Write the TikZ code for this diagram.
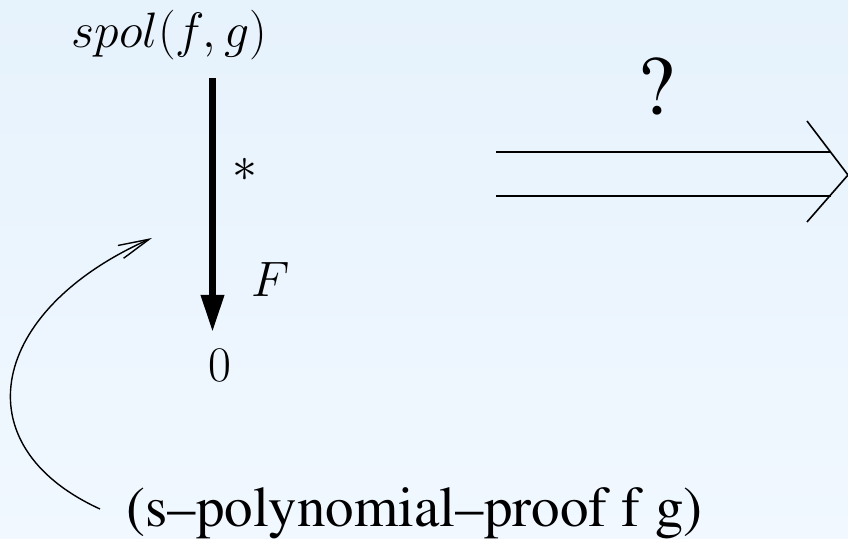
\documentclass[tikz,border=0pt]{standalone}
\usepackage{amsmath, amssymb}
\usepackage[T1,TU]{fontenc}
\usepackage{xcolor}
\newcommand\timesfont{\fontencoding{T1}\fontfamily{ptm}\selectfont}
\usetikzlibrary{arrows.meta}
\definecolor{bgtop}{RGB}{230,242,252}
\definecolor{bgbot}{RGB}{241,248,255}

\begin{document}
\begin{tikzpicture}[x=0.5pt, y=-0.5pt,
  mathlbl/.style={inner sep=0pt, font=\fontsize{25}{30}\selectfont},
  prooflbl/.style={inner sep=0pt, font=\fontsize{28.5}{34}\selectfont\timesfont},
  reduct/.style={line width=3.3pt, -{Triangle[length=18.5pt, width=11pt]}},
  thinarrow/.style={line width=0.7pt, -{Straight Barb[length=15.5pt, width=7pt]}}]
  \shade[top color=bgtop, bottom color=bgbot] (0,0) rectangle (848,539);
  \useasboundingbox (0,0) rectangle (848,539);
  % reduction of the s-polynomial
  \node[mathlbl, anchor=base] (spol) at (169.5,48) {$spol(f,g)$};
  \node[mathlbl, anchor=base] (zero) at (220,382) {$0$};
  \coordinate (rtop) at (212.5,78);
  \coordinate (rbot) at (212.5,332);
  \draw[reduct] (rtop) -- (rbot);
  \node[inner sep=0pt, font=\fontsize{25}{30}\selectfont] (star) at (245,170) {$\ast$};
  \node[mathlbl, anchor=base] (flbl) at (271,297) {$F$};
  % the proof term
  \node[prooflbl, anchor=base west] (proof) at (126,527) {(s--polynomial--proof f g)};
  \coordinate (cstart) at (100,509);
  \coordinate (ctip) at (152,238);
  \draw[thinarrow] (cstart) .. controls (-40,445) and (-10,310) .. (ctip);
  % implication
  \node[inner sep=0pt, font=\fontsize{42}{50}\selectfont\timesfont, anchor=base] (query) at (656,115) {?};
  \foreach \y in {152,196} {
    \draw[line width=0.9pt] (496,\y) -- (831,\y);
  }
  \draw[line width=0.8pt] (807,121) -- (848,175) -- (807,222);
\end{tikzpicture}
\end{document}
